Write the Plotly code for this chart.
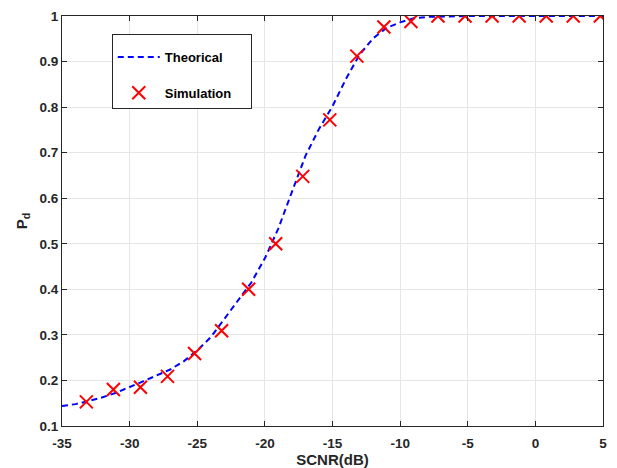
import plotly.graph_objects as go

# Theoretical curve
theo_x = list(range(-35, 6))
theo_y = [0.144, 0.148, 0.155, 0.163, 0.173, 0.185, 0.198, 0.211, 0.224, 0.242,
          0.266, 0.295, 0.335, 0.373, 0.415, 0.468, 0.534, 0.614, 0.693, 0.752,
          0.802, 0.862, 0.915, 0.951, 0.974, 0.986, 0.995, 0.998, 0.999, 1.0,
          1.0, 1.0, 1.0, 1.0, 1.0, 1.0, 1.0, 1.0, 1.0, 1.0, 1.0]

# Simulation points
sim_x = [-33.2, -31.2, -29.2, -27.2, -25.2, -23.2, -21.2, -19.2, -17.2, -15.2,
         -13.2, -11.2, -9.2, -7.2, -5.2, -3.2, -1.2, 0.8, 2.8, 4.8]
sim_y = [0.153, 0.180, 0.185, 0.209, 0.259, 0.309, 0.400, 0.500, 0.648, 0.772,
         0.912, 0.976, 0.988, 1.0, 1.0, 1.0, 1.0, 1.0, 1.0, 1.0]

x_ticks = [-35, -30, -25, -20, -15, -10, -5, 0, 5]
y_ticks = [0.1, 0.2, 0.3, 0.4, 0.5, 0.6, 0.7, 0.8, 0.9, 1.0]
y_ticktext = ["0.1", "0.2", "0.3", "0.4", "0.5", "0.6", "0.7", "0.8", "0.9", "1"]

FONT = "Liberation Sans"
PAD = "&nbsp;" * 4

fig = go.Figure()
fig.add_trace(go.Scatter(
    x=theo_x, y=theo_y, mode="lines", name="<b>Theorical</b>" + PAD,
    line=dict(color="#0000ff", width=2, dash="6px,4px"),
    legendgroup="a"))
fig.add_trace(go.Scatter(
    x=sim_x, y=sim_y, mode="markers", name="<b>Simulation</b>" + PAD,
    marker=dict(symbol="x-thin", size=13, line=dict(color="#ff0000", width=2),
                color="#ff0000"),
    legendgroup="b"))

axis_common = dict(
    showline=True, linecolor="#262626", linewidth=1, mirror="ticks",
    ticks="inside", ticklen=5, tickcolor="#262626",
    showgrid=True, gridcolor="#e6e6e6", gridwidth=1, zeroline=False,
    tickfont=dict(family=FONT, size=13.5, color="#262626"),
    automargin=False,
)

fig.update_xaxes(range=[-35, 5], tickvals=x_ticks, ticktext=[f"<b>{v}</b>" for v in x_ticks],
                 ticklabelstandoff=5,
                 title=dict(text="<b>SCNR(dB)</b>", font=dict(family=FONT, size=15, color="#262626"),
                            standoff=3),
                 **axis_common)
fig.update_yaxes(range=[0.1, 1.0], tickvals=y_ticks, ticktext=[f"<b>{t}</b>" for t in y_ticktext],
                 title=dict(text="<b>P<sub>d</sub></b>", font=dict(family=FONT, size=15, color="#262626"),
                            standoff=8),
                 **axis_common)

fig.update_layout(
    width=617, height=468,
    margin=dict(l=62, r=14, t=16, b=42),
    paper_bgcolor="white", plot_bgcolor="white",
    font=dict(family=FONT, color="#262626"),
    showlegend=True,
    legend=dict(x=0.092, y=0.955, xanchor="left", yanchor="top",
                bgcolor="white", bordercolor="#262626", borderwidth=1,
                font=dict(family=FONT, size=13, color="#000000"),
                title=dict(text="&nbsp;", font=dict(size=5)),
                tracegroupgap=16, itemwidth=42),
)

fig.write_html("out.html")
